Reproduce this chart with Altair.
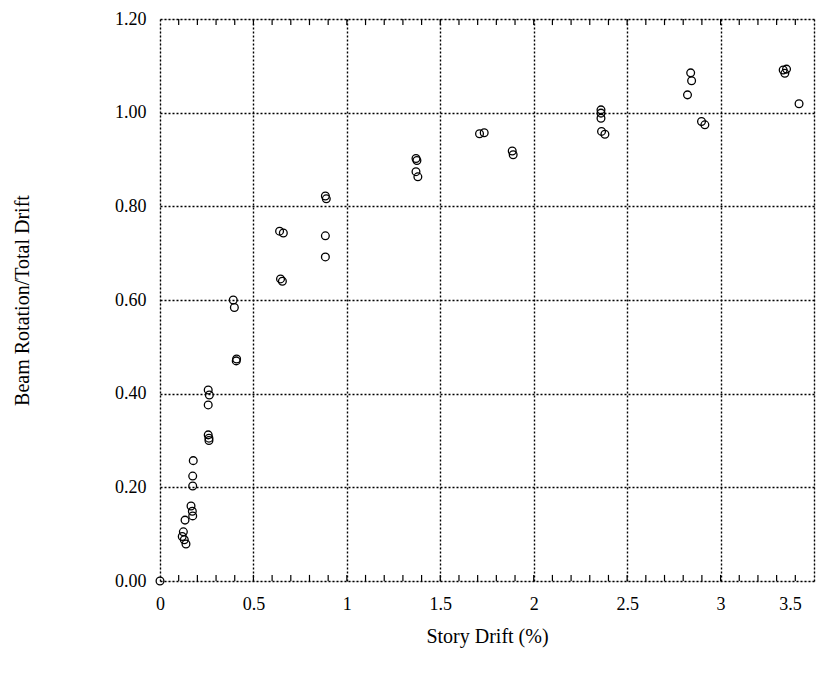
import altair as alt
import pandas as pd

# Data
drift = [0.0,
         0.119, 0.125, 0.130, 0.134, 0.139, 0.166, 0.173, 0.175, 0.175, 0.175, 0.178,
         0.258, 0.264, 0.258, 0.258, 0.262, 0.262,
         0.392, 0.398, 0.408, 0.410,
         0.64, 0.66, 0.645, 0.655,
         0.885, 0.89, 0.885, 0.885,
         1.37, 1.375, 1.37, 1.38,
         1.71, 1.735, 1.885, 1.89,
         2.36, 2.36, 2.36, 2.363, 2.381,
         2.823, 2.84, 2.845, 2.898, 2.916,
         3.335, 3.353, 3.344, 3.42]
ratio = [0.0,
         0.095, 0.105, 0.088, 0.130, 0.079, 0.160, 0.149, 0.139, 0.203, 0.224, 0.257,
         0.408, 0.397, 0.376, 0.312, 0.305, 0.300,
         0.600, 0.584, 0.470, 0.474,
         0.747, 0.743, 0.645, 0.640,
         0.822, 0.816, 0.737, 0.692,
         0.902, 0.898, 0.874, 0.863,
         0.955, 0.957, 0.918, 0.910,
         1.006, 0.999, 0.988, 0.960, 0.954,
         1.038, 1.085, 1.068, 0.981, 0.974,
         1.091, 1.093, 1.084, 1.019]

x_major = [0, 0.5, 1, 1.5, 2, 2.5, 3, 3.5]
y_major = [0.0, 0.2, 0.4, 0.6, 0.8, 1.0, 1.2]
x_minor = [round(i * 0.1, 1) for i in range(1, 35)]

pts = pd.DataFrame({"drift": drift, "ratio": ratio})
minor = pd.DataFrame({"m": x_minor})

FONT = "Liberation Serif"

xs = alt.Scale(domain=[0, 3.5], nice=False, zero=False)
ys = alt.Scale(domain=[0, 1.2], nice=False, zero=False)

points = alt.Chart(pts).mark_point(
    shape="circle", filled=False, color="black", size=60, strokeWidth=1.3, opacity=1
).encode(
    x=alt.X("drift:Q", scale=xs,
            axis=alt.Axis(values=x_major, format="~g", title="Story Drift (%)",
                          grid=True, gridColor="black", gridDash=[2, 2], gridWidth=1.4,
                          gridOpacity=1, ticks=False, domain=False,
                          labelFont=FONT, labelFontSize=18, labelColor="black",
                          labelPadding=14, labelFlush=False,
                          labelOffset={"condition": {"test": "datum.value == 3.5", "value": -24},
                                       "value": 0},
                          titleFont=FONT, titleFontSize=20, titleFontWeight="normal",
                          titleColor="black", titlePadding=13)),
    y=alt.Y("ratio:Q", scale=ys,
            axis=alt.Axis(values=y_major, format=".2f", title="Beam Rotation/Total Drift",
                          grid=True, gridColor="black", gridDash=[2, 2], gridWidth=1.4,
                          gridOpacity=1, ticks=False, domain=False,
                          labelFont=FONT, labelFontSize=18, labelColor="black",
                          labelPadding=14,
                          titleFont=FONT, titleFontSize=20, titleFontWeight="normal",
                          titleColor="black", titlePadding=82)),
)

bottom_ticks = alt.Chart(minor).mark_rule(color="black", strokeWidth=1.2).encode(
    x=alt.X("m:Q", scale=xs),
    y=alt.datum(0, scale=ys),
    y2=alt.datum(0.013),
)
top_ticks = alt.Chart(minor).mark_rule(color="black", strokeWidth=1.2).encode(
    x=alt.X("m:Q", scale=xs),
    y=alt.datum(1.2, scale=ys),
    y2=alt.datum(1.187),
)

chart = alt.layer(bottom_ticks, top_ticks, points).properties(
    width=654, height=562,
    autosize=alt.AutoSizeParams(type="none"),
    padding={"left": 152, "top": 11, "right": 12, "bottom": 90},
).configure_view(stroke="black", strokeWidth=1.8).configure(background="white")

chart.save("out.html", embed_options={"renderer": "svg", "actions": False})
